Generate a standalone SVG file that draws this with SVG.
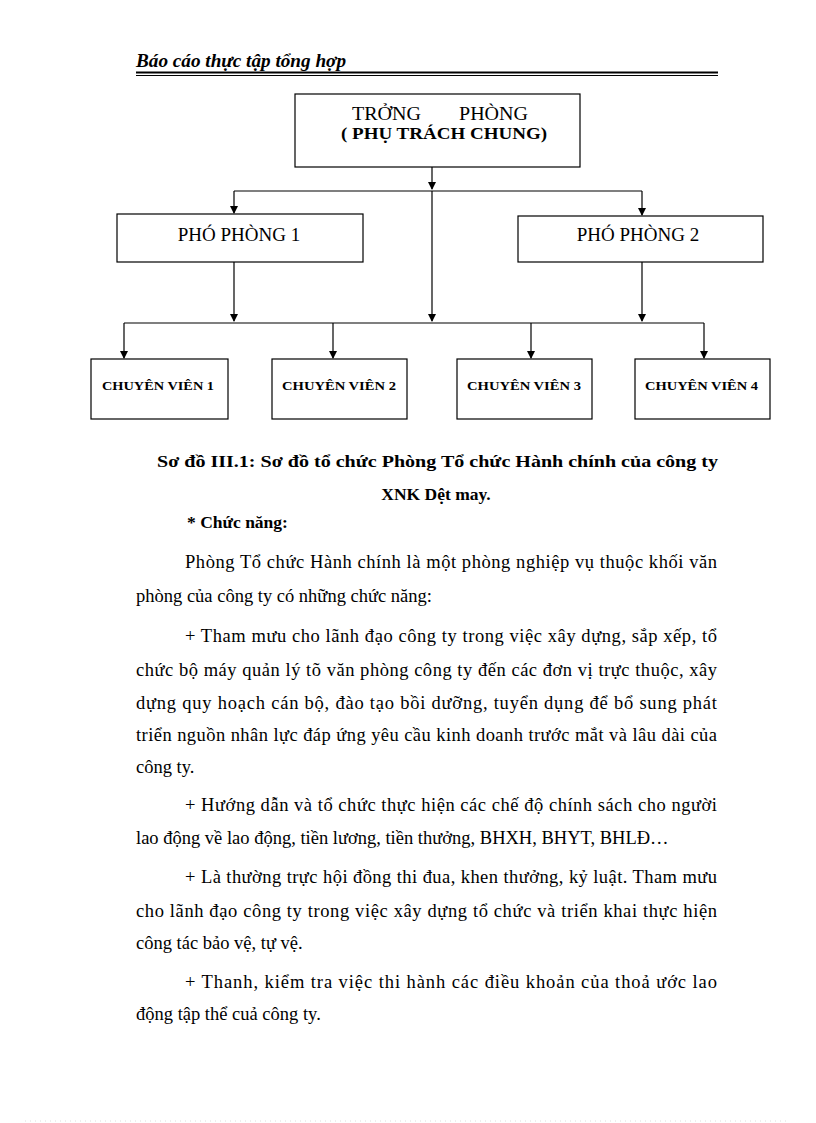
<svg xmlns="http://www.w3.org/2000/svg" width="816" height="1123" viewBox="0 0 816 1123">
<style>
.box{fill:#fff;stroke:#000;stroke-width:1.2}
.ln{fill:none;stroke:#000;stroke-width:1.2}
.t{font-family:"Liberation Serif","Times New Roman",serif;fill:#000}
.b{font-weight:bold}
.body{font-size:18.5px}
.cv{font-size:13.5px;font-weight:bold}
</style>
<defs>
<marker id="arr" markerWidth="8" markerHeight="8" refX="7" refY="4" orient="auto" markerUnits="userSpaceOnUse">
<path d="M0,0 L8,4 L0,8 Z" fill="#000"/>
</marker>
</defs>
<rect width="816" height="1123" fill="#fff"/>

<g id="header">
<text class="t b" x="136" y="67" font-size="18" font-style="italic" textLength="210" lengthAdjust="spacingAndGlyphs">Báo cáo thực tập tổng hợp</text>
<line x1="136" y1="72.5" x2="718" y2="72.5" stroke="#000" stroke-width="2"/>
<line x1="136" y1="75.5" x2="718" y2="75.5" stroke="#000" stroke-width="1"/>
</g>

<g id="connectors">
<path class="ln" d="M432,167 V189" marker-end="url(#arr)"/>
<path class="ln" d="M234,191 H642"/>
<path class="ln" d="M234,191 V213" marker-end="url(#arr)"/>
<path class="ln" d="M642,191 V215" marker-end="url(#arr)"/>
<path class="ln" d="M432,191 V321" marker-end="url(#arr)"/>
<path class="ln" d="M234,262 V321" marker-end="url(#arr)"/>
<path class="ln" d="M642,262 V321" marker-end="url(#arr)"/>
<path class="ln" d="M124,323 H704"/>
<path class="ln" d="M124,323 V358" marker-end="url(#arr)"/>
<path class="ln" d="M333,323 V358" marker-end="url(#arr)"/>
<path class="ln" d="M531,323 V358" marker-end="url(#arr)"/>
<path class="ln" d="M704,323 V358" marker-end="url(#arr)"/>
</g>

<g id="truong-phong">
<rect class="box" x="295" y="94" width="285" height="73"/>
<text class="t" x="352" y="120" font-size="19" textLength="69" lengthAdjust="spacingAndGlyphs">TRỞNG</text>
<text class="t" x="459" y="120" font-size="19" textLength="69" lengthAdjust="spacingAndGlyphs">PHÒNG</text>
<text class="t b" x="341" y="139" font-size="17" textLength="206" lengthAdjust="spacingAndGlyphs">( PHỤ TRÁCH CHUNG)</text>
</g>

<g id="pho-phong-1">
<rect class="box" x="117" y="214" width="246" height="48"/>
<text class="t" x="239" y="241" font-size="19" text-anchor="middle">PHÓ PHÒNG 1</text>
</g>

<g id="pho-phong-2">
<rect class="box" x="518" y="216" width="245" height="46"/>
<text class="t" x="638" y="241" font-size="19" text-anchor="middle">PHÓ PHÒNG 2</text>
</g>

<g id="chuyen-vien-1">
<rect class="box" x="91" y="359" width="137" height="60"/>
<text class="t cv" x="102" y="390" textLength="112" lengthAdjust="spacingAndGlyphs">CHUYÊN VIÊN 1</text>
</g>
<g id="chuyen-vien-2">
<rect class="box" x="272" y="359" width="135" height="60"/>
<text class="t cv" x="282" y="390" textLength="114" lengthAdjust="spacingAndGlyphs">CHUYÊN VIÊN 2</text>
</g>
<g id="chuyen-vien-3">
<rect class="box" x="457" y="359" width="135" height="60"/>
<text class="t cv" x="467" y="390" textLength="114" lengthAdjust="spacingAndGlyphs">CHUYÊN VIÊN 3</text>
</g>
<g id="chuyen-vien-4">
<rect class="box" x="635" y="359" width="135" height="60"/>
<text class="t cv" x="645" y="390" textLength="113" lengthAdjust="spacingAndGlyphs">CHUYÊN VIÊN 4</text>
</g>

<g id="caption">
<text class="t b" x="157" y="467" font-size="17.5" textLength="561" lengthAdjust="spacingAndGlyphs">Sơ đồ III.1: Sơ đồ tổ chức Phòng Tổ chức Hành chính của công ty</text>
<text class="t b" x="436" y="500" font-size="17.5" text-anchor="middle">XNK Dệt may.</text>
<text class="t b" x="187" y="528" font-size="17.5">* Chức năng:</text>
</g>

<g id="body-text" class="t body">
<text x="185" y="568" textLength="532" lengthAdjust="spacing">Phòng Tổ chức Hành chính là một phòng nghiệp vụ thuộc khối văn</text>
<text x="136" y="602">phòng của công ty có những chức năng:</text>
<text x="185" y="642" textLength="532" lengthAdjust="spacing">+ Tham mưu cho lãnh đạo công ty trong việc xây dựng, sắp xếp, tổ</text>
<text x="136" y="676" textLength="581" lengthAdjust="spacing">chức bộ máy quản lý tõ văn phòng công ty đến các đơn vị trực thuộc, xây</text>
<text x="136" y="709" textLength="581" lengthAdjust="spacing">dựng quy hoạch cán bộ, đào tạo bồi dưỡng, tuyển dụng để bổ sung phát</text>
<text x="136" y="741" textLength="581" lengthAdjust="spacing">triển nguồn nhân lực đáp ứng yêu cầu kinh doanh trước mắt và lâu dài của</text>
<text x="136" y="773">công ty.</text>
<text x="185" y="811" textLength="532" lengthAdjust="spacing">+ Hướng dẫn và tổ chức thực hiện các chế độ chính sách cho người</text>
<text x="136" y="844">lao động về lao động, tiền lương, tiền thưởng, BHXH, BHYT, BHLĐ…</text>
<text x="185" y="883" textLength="532" lengthAdjust="spacing">+ Là thường trực hội đồng thi đua, khen thưởng, kỷ luật. Tham mưu</text>
<text x="136" y="917" textLength="581" lengthAdjust="spacing">cho lãnh đạo công ty trong việc xây dựng tổ chức và triển khai thực hiện</text>
<text x="136" y="949">công tác bảo vệ, tự vệ.</text>
<text x="185" y="988" textLength="532" lengthAdjust="spacing">+ Thanh, kiểm tra việc thi hành các điều khoản của thoả ước lao</text>
<text x="136" y="1020">động tập thể cuả công ty.</text>
</g>

<line x1="25" y1="1121" x2="790" y2="1121" stroke="#ddd" stroke-width="1" stroke-dasharray="1,4"/>
</svg>
